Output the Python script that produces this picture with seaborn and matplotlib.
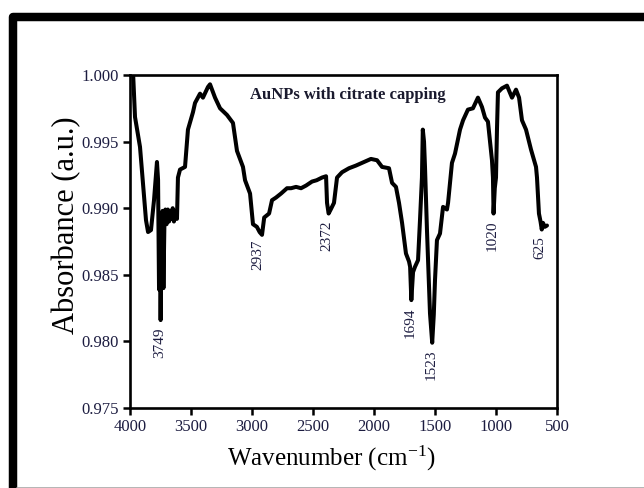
import numpy as np
import pandas as pd
import matplotlib
matplotlib.use("Agg")
import matplotlib.pyplot as plt
from matplotlib.patches import Rectangle
from matplotlib.lines import Line2D
import seaborn as sns

# FTIR spectrum of citrate-capped gold nanoparticles
wavenumber = [3990, 3975, 3959, 3918, 3869, 3852, 3828, 3803, 3779, 3770,
              3762, 3756, 3749, 3741, 3733, 3726, 3718, 3710, 3700, 3690,
              3680, 3670, 3660, 3650, 3640, 3625, 3615, 3607, 3590, 3549,
              3525, 3484, 3467, 3426, 3402, 3361, 3344, 3303, 3262, 3205,
              3156, 3123, 3074, 3057, 3016, 2992, 2960, 2937, 2918, 2900,
              2860, 2836, 2803, 2762, 2713, 2680, 2639, 2598, 2557, 2508,
              2470, 2426, 2393, 2385, 2372, 2355, 2328, 2303, 2262, 2205,
              2148, 2098, 2025, 1975, 1934, 1877, 1852, 1820, 1795, 1770,
              1738, 1713, 1704, 1694, 1680, 1664, 1639, 1623, 1607, 1600,
              1590, 1582, 1566, 1541, 1523, 1510, 1500, 1484, 1459, 1434,
              1402, 1393, 1361, 1336, 1295, 1270, 1230, 1189, 1148, 1115,
              1090, 1066, 1033, 1025, 1020, 1010, 1000, 992, 984, 951,
              910, 869, 836, 811, 787, 754, 713, 672, 664, 648,
              635, 625, 615, 600, 582]
absorbance = [1.0006, 1.0002, 0.99685, 0.99460, 0.98911, 0.98821, 0.98836, 0.99062, 0.99347, 0.99212,
              0.98390, 0.98900, 0.98160, 0.98860, 0.98980, 0.98400, 0.98880, 0.98990, 0.98880, 0.98990,
              0.98900, 0.98980, 0.98920, 0.99000, 0.98900, 0.98980, 0.98920, 0.99230, 0.99290, 0.99310,
              0.99590, 0.99720, 0.99790, 0.99860, 0.99830, 0.99910, 0.99930, 0.99830, 0.99750, 0.99700,
              0.99640, 0.99430, 0.99310, 0.99210, 0.99110, 0.98880, 0.98860, 0.98820, 0.98800, 0.98930,
              0.98960, 0.99060, 0.99080, 0.99110, 0.99150, 0.99150, 0.99160, 0.99150, 0.99170, 0.99200,
              0.99210, 0.99230, 0.99240, 0.99040, 0.98960, 0.98990, 0.99040, 0.99230, 0.99270, 0.99300,
              0.99320, 0.99340, 0.99370, 0.99360, 0.99310, 0.99300, 0.99190, 0.99160, 0.99040, 0.98890,
              0.98660, 0.98600, 0.98560, 0.98310, 0.98520, 0.98560, 0.98610, 0.98910, 0.99230, 0.99590,
              0.99500, 0.99310, 0.98840, 0.98210, 0.97990, 0.98200, 0.98460, 0.98760, 0.98810, 0.99010,
              0.98990, 0.99040, 0.99340, 0.99410, 0.99590, 0.99660, 0.99740, 0.99750, 0.99830, 0.99760,
              0.99680, 0.99650, 0.99360, 0.99230, 0.98960, 0.99150, 0.99230, 0.99590, 0.99870, 0.99900,
              0.99920, 0.99830, 0.99890, 0.99830, 0.99660, 0.99590, 0.99440, 0.99310, 0.99230, 0.98960,
              0.98900, 0.98840, 0.98890, 0.98860, 0.98870]

peak_labels = [3749, 2937, 2372, 1694, 1523, 1020, 625]
x_ticks = [4000, 3500, 3000, 2500, 2000, 1500, 1000, 500]
y_ticks = [0.975, 0.980, 0.985, 0.990, 0.995, 1.000]

df = pd.DataFrame({"wavenumber": wavenumber, "absorbance": absorbance})

sns.set_style("white")
plt.rcParams["font.family"] = ["Liberation Serif", "DejaVu Serif"]
plt.rcParams["mathtext.fontset"] = "stix"

fig = plt.figure(figsize=(6.44, 4.88), dpi=100)
ax = fig.add_axes([130 / 644, 1 - 408 / 488, 427 / 644, 333 / 488])

sns.lineplot(data=df, x="wavenumber", y="absorbance", ax=ax, color="black",
             linewidth=2.9, sort=False, estimator=None)

ax.set_xlim(4000, 500)
ax.set_ylim(0.975, 1.000)
ax.set_xticks(x_ticks)
ax.set_yticks(y_ticks)
ax.set_yticklabels([f"{v:.3f}" for v in y_ticks])

tick_color = "#1c1c40"
ax.tick_params(axis="both", which="major", direction="out", length=5, width=1.8,
               color="black", labelsize=12, labelcolor=tick_color, pad=3,
               bottom=True, left=True)
for side in ["left", "right", "top", "bottom"]:
    ax.spines[side].set_visible(True)
    ax.spines[side].set_color("black")
    ax.spines[side].set_linewidth(1.9)

ax.set_xlabel("Wavenumber (cm$^{\\mathregular{-1}}$)", fontsize=18, color="black")
ax.set_ylabel("Absorbance (a.u.)", fontsize=22, color="black")
ax.xaxis.set_label_coords(0.473, -0.105)
ax.yaxis.set_label_coords(-0.115, 0.55)

ax.text(0.51, 0.94, "AuNPs with citrate capping", transform=ax.transAxes,
        ha="center", va="center", fontsize=12, fontweight="bold", color="#1a1a2e")

lookup = dict(zip(wavenumber, absorbance))
for w in peak_labels:
    ax.annotate(str(w), xy=(w, lookup[w]), xytext=(-1, -5), textcoords="offset points",
                rotation=90, ha="center", va="top", fontsize=11, color=tick_color)

# outer frame
frame = Rectangle((13 / 644, -0.2), 1.2, 1 - 16.5 / 488 + 0.2, transform=fig.transFigure,
                  fill=False, edgecolor="black", linewidth=6.1, joinstyle="round",
                  clip_on=False)
fig.patches.append(frame)
fig.lines.append(Line2D([17 / 644, 1], [0.5 / 488, 0.5 / 488], transform=fig.transFigure,
                        color="#a8a8a8", linewidth=1.2))

fig.savefig("out.png", dpi=100)
